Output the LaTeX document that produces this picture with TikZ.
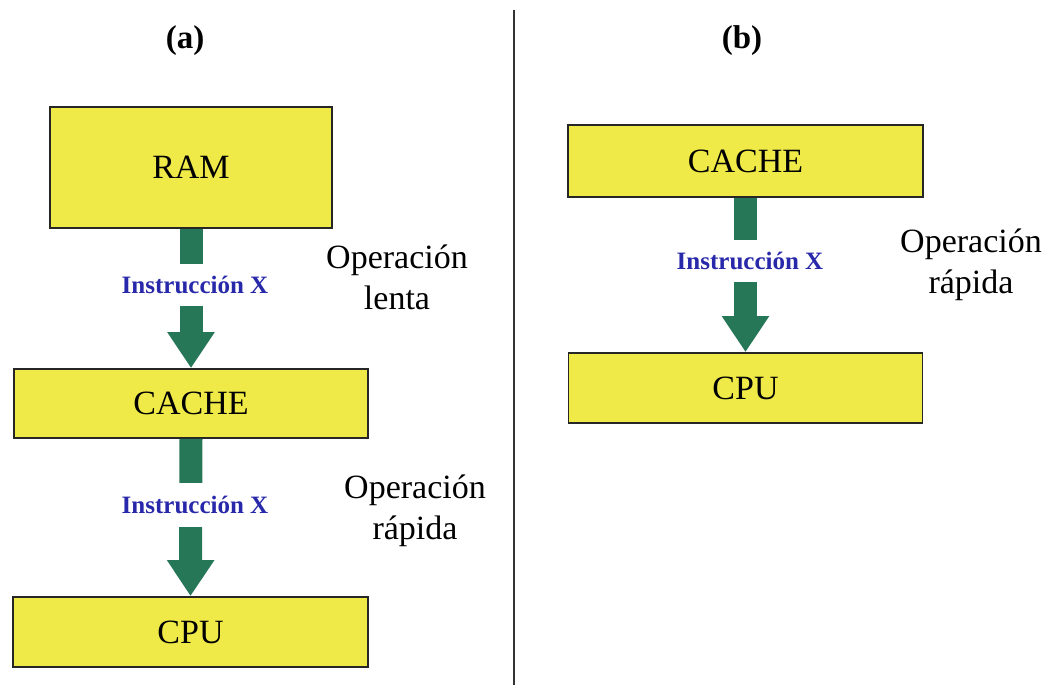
\documentclass[tikz,border=0pt]{standalone}
\usepackage{fontspec}
\setmainfont{Liberation Serif}
\usetikzlibrary{arrows.meta}

\definecolor{boxyellow}{RGB}{240,234,72}
\definecolor{arrowgreen}{RGB}{38,118,88}
\definecolor{instrblue}{RGB}{40,40,170}

\tikzset{
  membox/.style={draw=black!85, line width=1.8pt, fill=boxyellow, inner sep=0pt,
    font=\fontsize{34}{40}\selectfont},
  flow/.style={arrowgreen, line width=23pt,
    -{Triangle[width=45pt,length=36pt]}},
  instr/.style={fill=white, inner sep=0pt, text=instrblue,
    font=\bfseries\fontsize{25}{28}\selectfont},
  speed/.style={align=center, font=\fontsize{34}{41}\selectfont},
  panel/.style={font=\bfseries\fontsize{33}{38}\selectfont}
}

\begin{document}
\begin{tikzpicture}[x=1pt,y=-1pt]
  \useasboundingbox (0,0) rectangle (1050,685);

  % divider between the two panels
  \coordinate (divtop) at (514,10);
  \coordinate (divbot) at (514,685);
  \draw[line width=1.6pt, black!80] (divtop) -- (divbot);

  % panel titles
  \node[panel] (ta) at (185,41) {(a)};
  \node[panel] (tb) at (742,41) {(b)};

  % panel (a): RAM -> CACHE -> CPU
  \node[membox, minimum width=282pt, minimum height=121pt] (ram) at (191,167.5) {RAM};
  \node[membox, minimum width=354pt, minimum height=69pt] (cacheA) at (191,403.5) {CACHE};
  \node[membox, minimum width=355pt, minimum height=70pt] (cpuA) at (190.5,632) {CPU};

  \draw[flow] (ram.south) -- (cacheA.north);
  \draw[flow] (cacheA.south) -- (cpuA.north);

  \node[instr, minimum height=42pt] (ia1) at (195,285) {Instrucción X};
  \node[instr, minimum height=44pt] (ia2) at (195,505) {Instrucción X};

  \node[speed] (lenta) at (397,277) {Operación\\lenta};
  \node[speed] (rapA) at (415,511) {Operación\\rápida};

  % panel (b): CACHE -> CPU
  \node[membox, minimum width=355pt, minimum height=72pt] (cacheB) at (745.5,161) {CACHE};
  \node[membox, minimum width=354pt, minimum height=70pt] (cpuB) at (745.5,388) {CPU};

  \draw[flow] (cacheB.south) -- (cpuB.north);

  \node[instr, minimum height=42pt] (ib) at (750,261) {Instrucción X};

  \node[speed] (rapB) at (971,265) {Operación\\rápida};
\end{tikzpicture}
\end{document}
